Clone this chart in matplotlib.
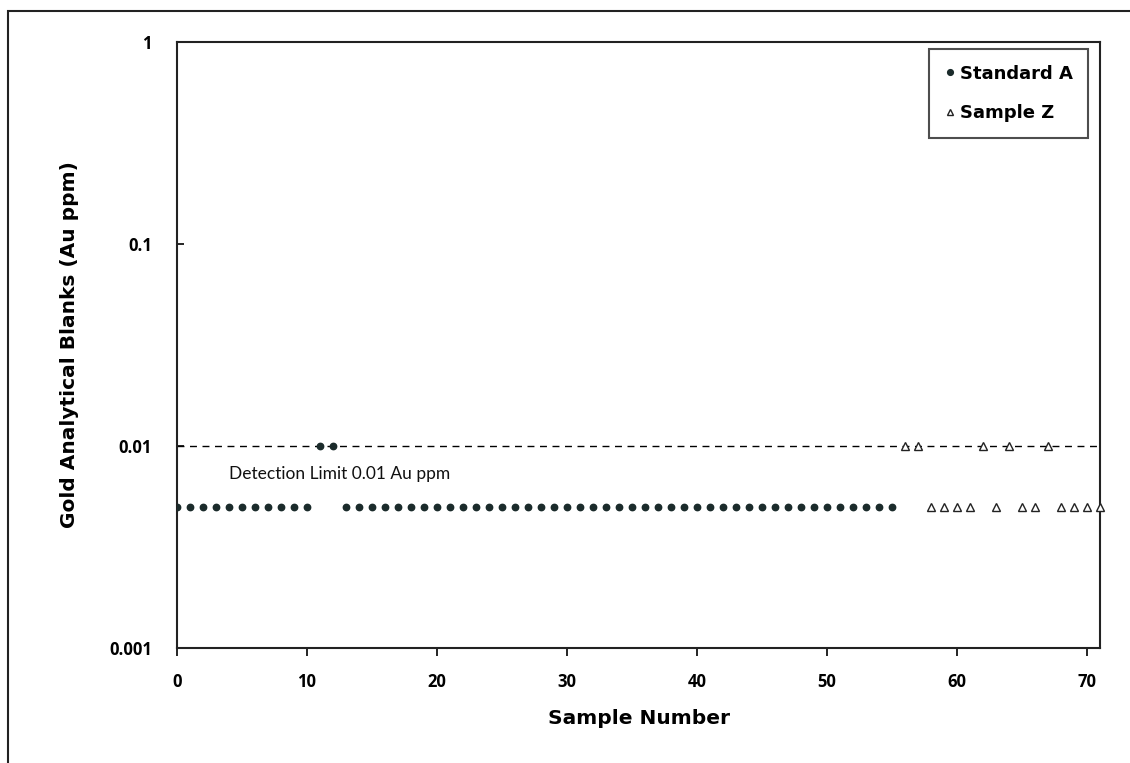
import matplotlib.pyplot as plt
from matplotlib.patches import Rectangle

# gold blanks, Au ppm (0.005 = half the detection limit)
std_x = list(range(0, 56))
std_y = [0.005] * 11 + [0.01, 0.01] + [0.005] * 43

smp_x = list(range(56, 72))
smp_y = [0.01, 0.01, 0.005, 0.005, 0.005, 0.005, 0.01, 0.005,
         0.01, 0.005, 0.005, 0.01, 0.005, 0.005, 0.005, 0.005]

detection_limit = 0.01
x_ticks = [0, 10, 20, 30, 40, 50, 60, 70]
y_ticks = [0.001, 0.01, 0.1, 1]
y_tick_labels = ['0.001', '0.01', '0.1', '1']

dark = '#1b2b2b'
tick_font = 'Open Sans'
label_font = 'DejaVu Sans'

fig = plt.figure(figsize=(11.3, 7.63), dpi=100)
ax = fig.add_axes([177 / 1130, 1 - 648 / 763, (1100 - 177) / 1130, (648 - 42) / 763])

# outer chart border
fig.patches.append(Rectangle((8 / 1130, -0.05), 1.2, 1 - 11 / 763 + 0.05,
                             transform=fig.transFigure, fill=False,
                             edgecolor='#222222', linewidth=1.5))

ax.plot([0, 71], [detection_limit, detection_limit], linestyle=(0, (5, 4)),
        color='black', linewidth=1, zorder=1)
ax.plot(std_x, std_y, linestyle='none', marker='o', markersize=4.6,
        color=dark, label='Standard A', zorder=3)
ax.plot(smp_x, smp_y, linestyle='none', marker='^', markersize=5.3,
        markerfacecolor='white', markeredgecolor='#222222',
        markeredgewidth=1, label='Sample Z', zorder=3, clip_on=False)

ax.set_yscale('log')
ax.set_xlim(0, 71)
ax.set_ylim(0.001, 1)
ax.set_xticks(x_ticks)
ax.set_yticks(y_ticks)
ax.set_yticklabels(y_tick_labels)
ax.minorticks_off()
ax.tick_params(axis='x', direction='out', length=6, width=1.2, pad=12)
ax.tick_params(axis='y', direction='in', length=5, width=1.2, pad=18)
for lab in ax.get_xticklabels() + ax.get_yticklabels():
    lab.set_fontfamily(tick_font)
    lab.set_fontweight('bold')
    lab.set_fontsize(12)
for s in ax.spines.values():
    s.set_linewidth(1.5)
    s.set_color('#222222')

ax.set_xlabel('Sample Number', fontsize=14.5, fontweight='bold',
              family=label_font, labelpad=13)
ax.set_ylabel('Gold Analytical Blanks (Au ppm)', fontsize=14.5,
              fontweight='bold', family=label_font, labelpad=22)

ax.text(4, 0.0073, 'Detection Limit 0.01 Au ppm', fontsize=12.5,
        family='Lato', color='#111111', va='center')

leg = ax.legend(loc='upper right', frameon=True, fancybox=False,
                edgecolor='#222222', handlelength=0.6, handletextpad=0.25,
                borderpad=0.85, labelspacing=1.2, markerscale=0.9,
                borderaxespad=0, bbox_to_anchor=(0.987, 0.988),
                prop={'family': label_font, 'weight': 'bold', 'size': 13})
leg.get_frame().set_linewidth(1.5)

fig.savefig('out.png', dpi=100)
